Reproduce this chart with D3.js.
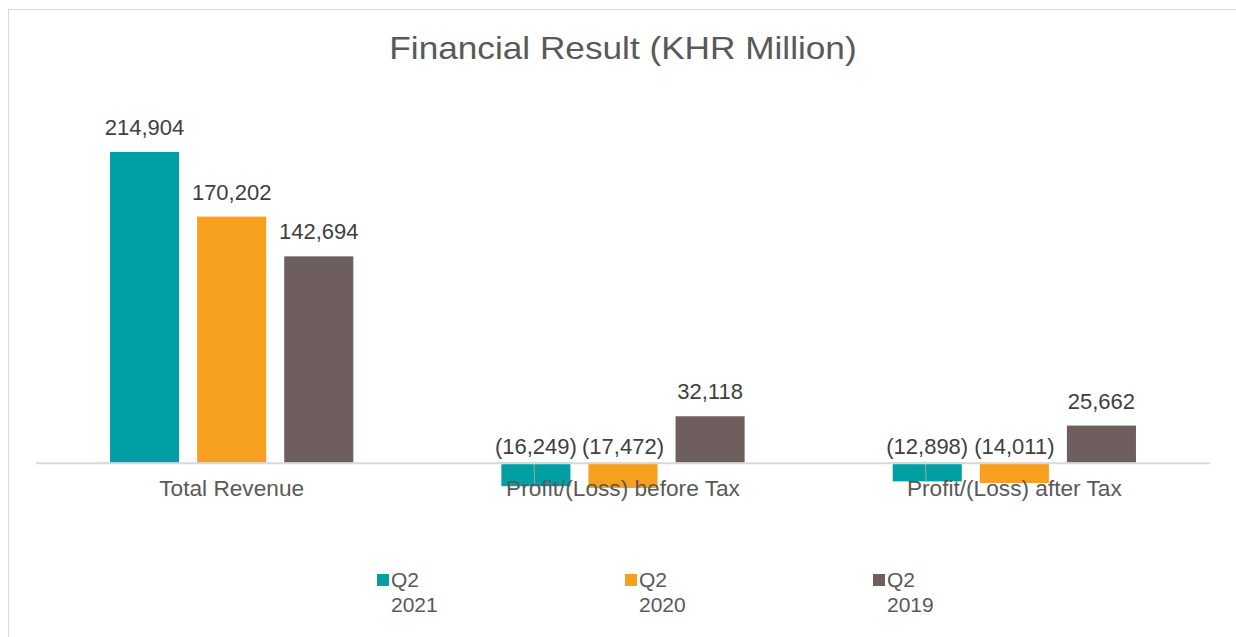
<!DOCTYPE html>
<html>
<head>
<meta charset="utf-8">
<script src="https://cdn.jsdelivr.net/npm/d3@7"></script>
<style>
  html, body { margin: 0; padding: 0; background: #fff; }
  svg { display: block; font-family: "Liberation Sans", Arial, sans-serif; }
</style>
</head>
<body>
<svg id="chart" width="1236" height="637"></svg>
<script>
const title = "Financial Result (KHR Million)";
const categories = ["Total Revenue", "Profit/(Loss) before Tax", "Profit/(Loss) after Tax"];
const seriesNames = ["Q2 2021", "Q2 2020", "Q2 2019"];
const legendLine1 = ["Q2", "Q2", "Q2"];
const legendLine2 = ["2021", "2020", "2019"];
const q2_2021 = [214904, -16249, -12898];
const q2_2020 = [170202, -17472, -14011];
const q2_2019 = [142694, 32118, 25662];
const colors = ["#009FA4", "#F79F1F", "#6E5F5E"];

const seriesValues = [q2_2021, q2_2020, q2_2019];

const svg = d3.select("#chart");
const W = 1236, H = 637;

// chart outline
svg.append("rect").attr("x", 8.5).attr("y", 9.5).attr("width", W + 10).attr("height", H + 10)
  .attr("fill", "#fff").attr("stroke", "#d9d9d9").attr("stroke-width", 1);

const plotLeft = 36, plotRight = 1210;
const x0 = d3.scaleBand().domain(categories).range([plotLeft, plotRight]).paddingInner(0).paddingOuter(0);
const x1 = d3.scaleBand().domain(seriesNames).range([0, x0.bandwidth()]).paddingInner(0.207).paddingOuter(0.85);
const y = d3.scaleLinear().domain([-50000, 250000]).range([535, 101.2]);

// title
svg.append("text")
  .attr("transform", "translate(623,59) scale(1.1,1)")
  .attr("text-anchor", "middle")
  .attr("font-size", 32).attr("fill", "#595959").text(title);

// bars
const groups = svg.selectAll("g.cat").data(categories).enter().append("g")
  .attr("class", "cat").attr("transform", d => `translate(${x0(d)},0)`);

seriesNames.forEach((s, si) => {
  groups.append("rect")
    .attr("x", x1(s))
    .attr("width", x1.bandwidth())
    .attr("y", (d, ci) => y(Math.max(0, seriesValues[si][ci])))
    .attr("height", (d, ci) => Math.abs(y(seriesValues[si][ci]) - y(0)))
    .attr("fill", colors[si]);
});

// axis line
svg.append("line").attr("x1", plotLeft).attr("x2", plotRight)
  .attr("y1", y(0) + 0.5).attr("y2", y(0) + 0.5)
  .attr("stroke", "#d9d9d9").attr("stroke-width", 2);

// leader lines for first series negative labels
groups.each(function(d, ci) {
  const v = seriesValues[0][ci];
  if (v < 0) {
    const cx = x1(seriesNames[0]) + x1.bandwidth() / 2;
    d3.select(this).append("line")
      .attr("x1", cx - 2).attr("x2", cx - 1)
      .attr("y1", y(0)).attr("y2", y(v))
      .attr("stroke", "#a6a6a6").attr("stroke-width", 1);
  }
});

// category labels
svg.selectAll("text.cat").data(categories).enter().append("text")
  .attr("class", "cat")
  .attr("transform", d => `translate(${x0(d) + x0.bandwidth() / 2},496) scale(1.03,1)`)
  .attr("text-anchor", "middle").attr("font-size", 22).attr("fill", "#595959")
  .text(d => d);

// data labels
const fmt = d3.format(",");
seriesNames.forEach((s, si) => {
  groups.append("text")
    .attr("x", x1(s) + x1.bandwidth() / 2)
    .attr("y", (d, ci) => {
      const v = seriesValues[si][ci];
      return v >= 0 ? y(v) - 17 : y(0) - 9;
    })
    .attr("text-anchor", "middle").attr("font-size", 22).attr("fill", "#404040")
    .text((d, ci) => {
      const v = seriesValues[si][ci];
      return v >= 0 ? fmt(v) : "(" + fmt(-v) + ")";
    });
});

// legend
const legX = d3.scalePoint().domain(seriesNames).range([377, 873]);
const leg = svg.selectAll("g.leg").data(seriesNames).enter().append("g")
  .attr("class", "leg").attr("transform", d => `translate(${legX(d)},0)`);
leg.append("rect").attr("x", 0).attr("y", 574).attr("width", 12).attr("height", 12)
  .attr("fill", (d, i) => colors[i]);
leg.append("text").attr("x", 14).attr("y", 587).attr("font-size", 21).attr("fill", "#595959")
  .text((d, i) => legendLine1[i]);
leg.append("text").attr("x", 14).attr("y", 612).attr("font-size", 21).attr("fill", "#595959")
  .text((d, i) => legendLine2[i]);
</script>
</body>
</html>
